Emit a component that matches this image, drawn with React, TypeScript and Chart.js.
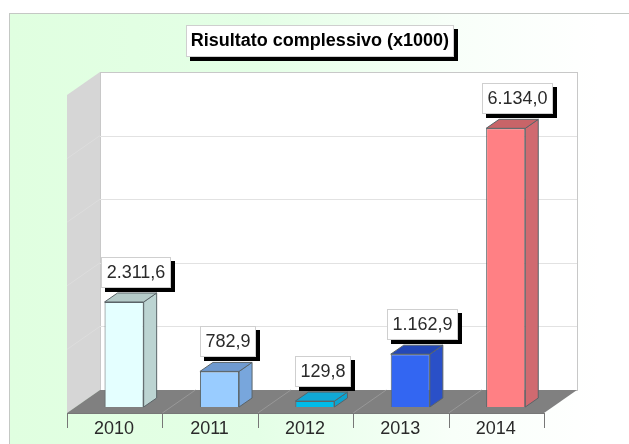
import React, { useEffect, useRef } from "react";
import { Chart, registerables } from "chart.js";

Chart.register(...registerables);

const years = ["2010", "2011", "2012", "2013", "2014"];
const results = [2311.6, 782.9, 129.8, 1162.9, 6134.0];
const valueLabels = ["2.311,6", "782,9", "129,8", "1.162,9", "6.134,0"];
const frontColors = ["#E4FFFF", "#99CCFF", "#00BCE8", "#3366F2", "#FF8084"];
const sideColors = ["#BCD4D2", "#78A6DC", "#0CA4D0", "#2A50C8", "#D06A70"];
const topColors = ["#B4CAC8", "#6F9AD0", "#10A8D6", "#2448B8", "#C86468"];
const titleText = "Risultato complessivo (x1000)";

const DEPTH_X = 33;
const DEPTH_Y = 23;
const FRONT_DX = -9.4;
const FRONT_DY = 6;
const BAR_DX = 13;
const BAR_DY = 9;

function boxedShadow(ctx: CanvasRenderingContext2D, x: number, y: number, w: number, h: number) {
  ctx.fillStyle = "#000";
  ctx.fillRect(x + 4, y + 4, w, h);
  ctx.fillStyle = "#fff";
  ctx.strokeStyle = "#cfcfcf";
  ctx.lineWidth = 1;
  ctx.fillRect(x, y, w, h);
  ctx.strokeRect(x + 0.5, y + 0.5, w - 1, h - 1);
}

const scenePlugin = {
  id: "scene",
  beforeDraw(chart: any) {
    const { ctx, width, height } = chart;
    const area = chart.chartArea;
    const yS = chart.scales.y;
    ctx.save();
    ctx.fillStyle = "#fff";
    ctx.fillRect(0, 0, width, height);
    const g = ctx.createLinearGradient(10, 0, 600, 0);
    g.addColorStop(0, "#E0FFE0");
    g.addColorStop(0.42, "#E4FFE6");
    g.addColorStop(0.75, "#F8FFF9");
    g.addColorStop(1, "#FFFFFF");
    ctx.fillStyle = g;
    ctx.fillRect(10, 14, width - 10, height - 14);
    ctx.fillStyle = "#C4C8C4";
    ctx.fillRect(10, 13, width - 10, 1);
    ctx.fillRect(9, 13, 1, height - 13);

    // title plate
    boxedShadow(ctx, 186, 25, 268, 32);

    const fl = area.left + FRONT_DX;
    const fr = area.right + FRONT_DX;
    const fb = area.bottom + FRONT_DY;
    const bb = fb - DEPTH_Y;
    const bt = yS.getPixelForValue(yS.max) + FRONT_DY - DEPTH_Y;
    const bl = fl + DEPTH_X;
    const br = fr + DEPTH_X;

    // back wall
    ctx.fillStyle = "#fff";
    ctx.fillRect(bl, bt, br - bl, bb - bt);
    ctx.strokeStyle = "#C8C8C8";
    ctx.lineWidth = 1;
    ctx.strokeRect(bl + 0.5, bt + 0.5, br - bl, bb - bt);

    // left wall
    ctx.fillStyle = "#D6D6D6";
    ctx.beginPath();
    ctx.moveTo(fl, bt + DEPTH_Y);
    ctx.lineTo(bl, bt);
    ctx.lineTo(bl, bb);
    ctx.lineTo(fl, fb);
    ctx.closePath();
    ctx.fill();

    // floor
    ctx.fillStyle = "#808080";
    ctx.beginPath();
    ctx.moveTo(fl, fb);
    ctx.lineTo(bl, bb);
    ctx.lineTo(br, bb);
    ctx.lineTo(fr, fb);
    ctx.closePath();
    ctx.fill();

    // grid on back and left wall
    yS.ticks.forEach((t: any) => {
      const y = yS.getPixelForValue(t.value) + FRONT_DY;
      ctx.strokeStyle = "#E2E2E2";
      ctx.beginPath();
      if (t.value > 0 && t.value < yS.max) {
        ctx.moveTo(bl, Math.round(y - DEPTH_Y) + 0.5);
        ctx.lineTo(br, Math.round(y - DEPTH_Y) + 0.5);
        ctx.stroke();
        ctx.strokeStyle = "#DDDDDD";
        ctx.beginPath();
        ctx.moveTo(fl, y);
        ctx.lineTo(bl, y - DEPTH_Y);
        ctx.stroke();
      }
    });

    // floor diagonals, axis line and ticks
    const step = (fr - fl) / years.length;
    for (let i = 0; i <= years.length; i++) {
      const x = fl + step * i;
      if (i > 0 && i < years.length) {
        ctx.strokeStyle = "#989898";
        ctx.beginPath();
        ctx.moveTo(x, fb);
        ctx.lineTo(x + DEPTH_X, bb);
        ctx.stroke();
      }
      ctx.strokeStyle = "#777";
      ctx.beginPath();
      ctx.moveTo(Math.round(x) + 0.5, fb);
      ctx.lineTo(Math.round(x) + 0.5, fb + 15);
      ctx.stroke();
    }
    ctx.strokeStyle = "#777";
    ctx.beginPath();
    ctx.moveTo(fl, Math.round(fb) + 0.5);
    ctx.lineTo(fr, Math.round(fb) + 0.5);
    ctx.stroke();
    ctx.restore();
  },
  beforeDatasetsDraw(chart: any) {
    const { ctx } = chart;
    const meta = chart.getDatasetMeta(0);
    ctx.save();
    ctx.lineWidth = 1;
    ctx.strokeStyle = "#5A6468";
    meta.data.forEach((bar: any, i: number) => {
      const w = bar.width;
      const l = bar.x - w / 2;
      const r = bar.x + w / 2;
      const t = bar.y;
      const b = bar.base;
      ctx.fillStyle = sideColors[i];
      ctx.beginPath();
      ctx.moveTo(r, t);
      ctx.lineTo(r + BAR_DX, t - BAR_DY);
      ctx.lineTo(r + BAR_DX, b - BAR_DY);
      ctx.lineTo(r, b);
      ctx.closePath();
      ctx.fill();
      ctx.stroke();
      ctx.fillStyle = topColors[i];
      ctx.beginPath();
      ctx.moveTo(l, t);
      ctx.lineTo(l + BAR_DX, t - BAR_DY);
      ctx.lineTo(r + BAR_DX, t - BAR_DY);
      ctx.lineTo(r, t);
      ctx.closePath();
      ctx.fill();
      ctx.stroke();
    });
    ctx.restore();
  },
  afterDatasetsDraw(chart: any) {
    const { ctx } = chart;
    const meta = chart.getDatasetMeta(0);
    ctx.save();
    ctx.font = "18px 'Liberation Sans'";
    meta.data.forEach((bar: any, i: number) => {
      const label = valueLabels[i];
      const tw = ctx.measureText(label).width;
      const w = tw + 11;
      const h = 31;
      const cx = bar.x + 0.233 * tw - 2;
      const y = bar.y - 14 - h;
      boxedShadow(ctx, Math.round(cx - w / 2), Math.round(y), Math.round(w), h);
      ctx.fillStyle = "#2A2A2A";
      ctx.textAlign = "center";
      ctx.textBaseline = "middle";
      ctx.fillText(label, Math.round(cx - w / 2) + Math.round(w) / 2, Math.round(y) + h / 2 + 1);
    });
    ctx.restore();
  },
  afterLayout(chart: any) {
    if (chart.titleBlock) {
      chart.titleBlock.left += 5;
      chart.titleBlock.right += 5;
    }
  },
};

export default function App() {
  const ref = useRef<HTMLCanvasElement>(null);
  useEffect(() => {
    const chart = new Chart(ref.current as HTMLCanvasElement, {
      type: "bar",
      data: {
        labels: years,
        datasets: [
          {
            data: results,
            backgroundColor: frontColors,
            borderColor: "#5A6468",
            borderWidth: 1,
            categoryPercentage: 0.41,
            barPercentage: 1,
          },
        ],
      },
      plugins: [scenePlugin],
      options: {
        responsive: false,
        animation: false,
        layout: { padding: { left: 76.4, right: 75.6, top: 0, bottom: 0 } },
        plugins: {
          legend: { display: false },
          tooltip: { enabled: false },
          title: {
            display: true,
            text: titleText,
            color: "#000",
            font: { family: "'Liberation Sans'", size: 18, weight: "bold", lineHeight: 1.2 },
            padding: { top: 30, bottom: 37.4 },
          },
        },
        scales: {
          x: {
            grid: { display: false, drawTicks: false },
            border: { display: false },
            afterFit: (s: any) => {
              s.height = 37;
            },
            ticks: {
              color: "#2A2A2A",
              font: { family: "'Liberation Sans'", size: 18 },
              padding: 11,
              labelOffset: -10,
              maxRotation: 0,
            },
          },
          y: {
            display: false,
            min: 0,
            max: 7000,
            ticks: { stepSize: 1400 },
          },
        },
      },
    } as any);
    return () => chart.destroy();
  }, []);
  return (
    <div style={{ position: "fixed", left: 0, top: 0, width: 629, height: 444 }}>
      <canvas ref={ref} width={629} height={444} style={{ display: "block" }} />
    </div>
  );
}
